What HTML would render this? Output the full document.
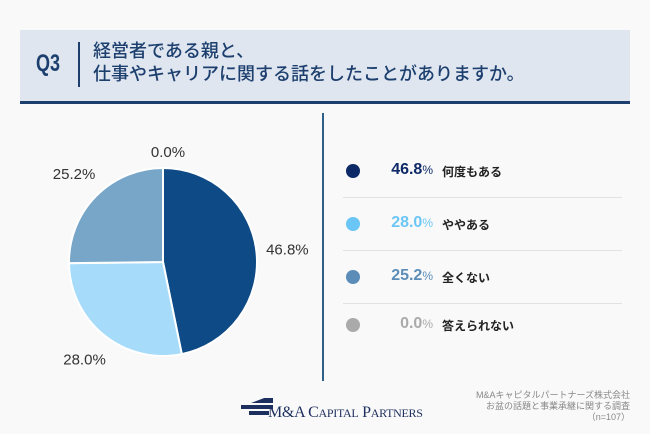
<!DOCTYPE html>
<html><head><meta charset="utf-8"><style>
body{margin:0;width:650px;height:434px;background:#f9f9f9;font-family:"Liberation Sans","Noto Sans CJK JP",sans-serif;position:relative;overflow:hidden}
.abs{position:absolute}
</style></head><body>
<div class="abs" style="left:20px;top:30px;width:610px;height:71px;background:#dfe6f0"></div>
<div class="abs" style="left:20px;top:101px;width:610px;height:3px;background:#1d3f6e"></div>
<div class="abs" style="left:36px;top:50px;font-size:24px;font-weight:bold;color:#1d3f6e;transform:scaleX(0.75);transform-origin:left">Q3</div>
<div class="abs" style="left:78px;top:42px;width:2px;height:45px;background:#1d3f6e"></div>
<div class="abs" style="left:93px;top:40px;font-size:18px;line-height:23px;color:#1d3f6e;font-weight:500">経営者である親と、<br>仕事やキャリアに関する話をしたことがありますか。</div>

<div class="abs" style="left:322px;top:113px;width:2px;height:268px;background:#2e5f86"></div>

<svg class="abs" style="left:0;top:0" width="650" height="434">
<g id="pie"></g>
<g id="plabels" font-family="Liberation Sans, sans-serif" font-size="15" fill="#333"></g>
</svg>

<div id="legend"></div>

<div class="abs" style="left:241px;top:398px">
<div style="position:absolute;left:10px;top:0;width:22px;height:5px;background:#1d2f5e;clip-path:polygon(60% 0,100% 0,100% 100%,0 100%)"></div>
<div style="position:absolute;left:0;top:7px;width:32px;height:4px;background:#1d2f5e"></div>
<div style="position:absolute;left:8px;top:13px;width:20px;height:4px;background:#1d2f5e"></div>
</div>
<div class="abs" style="left:268px;top:404px;font-family:'Liberation Serif',serif;font-size:16px;color:#1d2f5e;letter-spacing:-0.3px">M&amp;A C<span style="font-size:12px">APITAL</span> P<span style="font-size:12px">ARTNERS</span></div>
<div class="abs" style="left:430px;width:200px;top:390px;text-align:right;font-size:9px;line-height:11px;color:#888">M&amp;Aキャピタルパートナーズ株式会社<br>お盆の話題と事業承継に関する調査<br>（n=107）</div>

<script>
const categories=["何度もある","ややある","全くない","答えられない"];
const values=[46.8,28.0,25.2,0.0];
const valueLabels=["46.8%","28.0%","25.2%","0.0%"];
const pieColors=["#0e4a85","#a6dcfa","#77a6c9","#aaaaaa"];
const legendColors=["#0d2a66","#6cc6f5","#5b8db8","#aaaaaa"];
const NS="http://www.w3.org/2000/svg";
const cx=163,cy=262,r=94;
const total=values.reduce((a,b)=>a+b,0);
function ang(v){return v/total*2*Math.PI;}
function pt(a,rr){return [cx+rr*Math.sin(a),cy-rr*Math.cos(a)];}
const pie=document.getElementById('pie'),pl=document.getElementById('plabels');
let a0=0;
values.forEach((v,i)=>{
  const a1=a0+ang(v);
  if(v>0){
    const p0=pt(a0,r),p1=pt(a1,r);
    const path=document.createElementNS(NS,'path');
    path.setAttribute('d',`M${cx},${cy}L${p0[0]},${p0[1]}A${r},${r} 0 ${a1-a0>Math.PI?1:0} 1 ${p1[0]},${p1[1]}Z`);
    path.setAttribute('fill',pieColors[i]);path.setAttribute('stroke','#fff');path.setAttribute('stroke-width','2');
    
    
    pie.appendChild(path);
  }
  const mid=(a0+a1)/2;
  const lp=v===0?[cx+5,cy-110]:pt(mid,r+31);
  const t=document.createElementNS(NS,'text');
  t.setAttribute('x',lp[0]);t.setAttribute('y',lp[1]+5);t.setAttribute('text-anchor','middle');
  t.textContent=valueLabels[i];
  
  
  pl.appendChild(t);
  a0=a1;
});
const lg=document.getElementById('legend');
const rows=[171,224,277,325];
categories.forEach((c,i)=>{
  const y=rows[i];
  const d=document.createElement('div');d.className='abs';
  d.style.cssText=`left:346px;top:${y-7}px;width:14px;height:14px;border-radius:50%;background:${legendColors[i]}`;
  
  
  lg.appendChild(d);
  const v=document.createElement('div');v.className='abs';
  v.style.cssText=`left:375px;width:58px;text-align:right;top:${y-10}px;font-size:16px;font-weight:bold;color:${legendColors[i]}`;
  v.innerHTML=values[i].toFixed(1)+'<span style="font-size:12px;font-weight:normal">%</span>';
  
  
  lg.appendChild(v);
  const l=document.createElement('div');l.className='abs';
  l.style.cssText=`left:442px;top:${y-8}px;font-size:12px;font-weight:bold;color:#222`;
  l.textContent=c;
  
  
  lg.appendChild(l);
  if(i<3){const s=document.createElement('div');s.className='abs';
    s.style.cssText=`left:343px;top:${y+26}px;width:279px;height:1px;background:#e2e2e2`;
    
    
    lg.appendChild(s);}
});
</script>
</body></html>
